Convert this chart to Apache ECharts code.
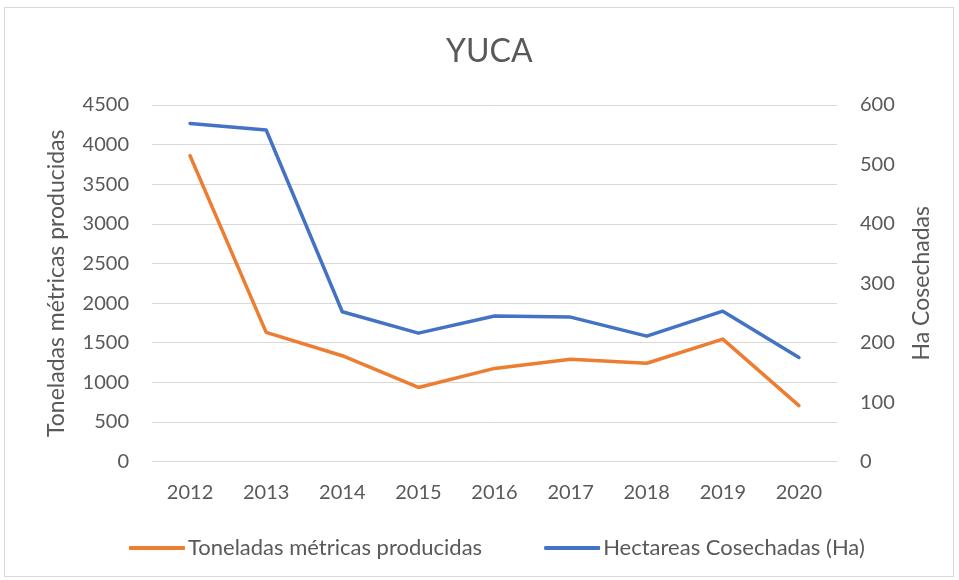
<!DOCTYPE html>
<html>
<head>
<meta charset="utf-8">
<script src="https://cdn.jsdelivr.net/npm/echarts@6/dist/echarts.min.js"></script>
<style>
  body { margin: 0; background: #fff; }
  #frame { position: absolute; left: 4px; top: 7px; width: 950px; height: 570px; border: 1px solid #d9d9d9; box-sizing: border-box; }
  #chart { position: absolute; left: 0; top: 0; width: 959px; height: 580px; }
</style>
</head>
<body>
<div id="frame"></div>
<div id="chart"></div>
<script>
const years = ["2012", "2013", "2014", "2015", "2016", "2017", "2018", "2019", "2020"];
const toneladas = [3860, 1630, 1335, 935, 1175, 1290, 1240, 1545, 705];
const hectareas = [569, 558, 252, 216, 245, 243, 211, 253, 175];
const leftTicks = [0, 4500, 500];
const rightTicks = [0, 600, 100];

const textColor = "#595959";
const font = "Lato, 'Open Sans', sans-serif";

const chart = echarts.init(document.getElementById("chart"), null, { renderer: "canvas" });
chart.setOption({
  animation: false,
  textStyle: { fontFamily: font, color: textColor },
  title: {
    text: "YUCA",
    left: 441,
    top: 31,
    textStyle: { fontFamily: font, fontSize: 32, fontWeight: "normal", color: textColor },
  },
  legend: {
    top: 532,
    left: 124,
    itemWidth: 56,
    itemHeight: 4,
    itemGap: 62,
    icon: "roundRect",
    textStyle: { fontFamily: font, fontSize: 22, color: textColor, padding: [0, 0, 0, -2] },
    data: ["Toneladas métricas producidas", "Hectareas Cosechadas (Ha)"],
  },
  grid: { left: 152, right: 122, top: 105, bottom: 118.5 },
  xAxis: {
    type: "category",
    data: years,
    boundaryGap: true,
    axisLine: { lineStyle: { color: "#d9d9d9", width: 1 } },
    axisTick: { show: false },
    axisLabel: { color: textColor, fontSize: 20, margin: 21, fontFamily: font },
  },
  yAxis: [
    {
      type: "value",
      min: leftTicks[0],
      max: leftTicks[1],
      interval: leftTicks[2],
      name: "Toneladas métricas producidas",
      nameLocation: "middle",
      nameGap: 84,
      nameTextStyle: { fontSize: 23, color: textColor, fontFamily: font },
      axisLine: { show: false },
      axisTick: { show: false },
      axisLabel: {
        color: textColor,
        fontSize: 20,
        margin: 23,
        fontFamily: font,
        formatter: (v) => String(v),
      },
      splitLine: { lineStyle: { color: "#d9d9d9", width: 1 } },
    },
    {
      type: "value",
      min: rightTicks[0],
      max: rightTicks[1],
      interval: rightTicks[2],
      name: "Ha Cosechadas",
      nameLocation: "middle",
      nameGap: 73,
      nameTextStyle: { fontSize: 23, color: textColor, fontFamily: font },
      axisLine: { show: false },
      axisTick: { show: false },
      axisLabel: { color: textColor, fontSize: 20, margin: 23, fontFamily: font },
      splitLine: { show: false },
    },
  ],
  series: [
    {
      name: "Toneladas métricas producidas",
      type: "line",
      yAxisIndex: 0,
      data: toneladas,
      symbol: "none",
      color: "#ED7D31",
      lineStyle: { width: 3.5, color: "#ED7D31", cap: "round", join: "round" },
    },
    {
      name: "Hectareas Cosechadas (Ha)",
      type: "line",
      yAxisIndex: 1,
      data: hectareas,
      symbol: "none",
      color: "#4472C4",
      lineStyle: { width: 3.5, color: "#4472C4", cap: "round", join: "round" },
    },
  ],
});
window.addEventListener("resize", () => {
  chart.resize();
});
</script>
</body>
</html>
